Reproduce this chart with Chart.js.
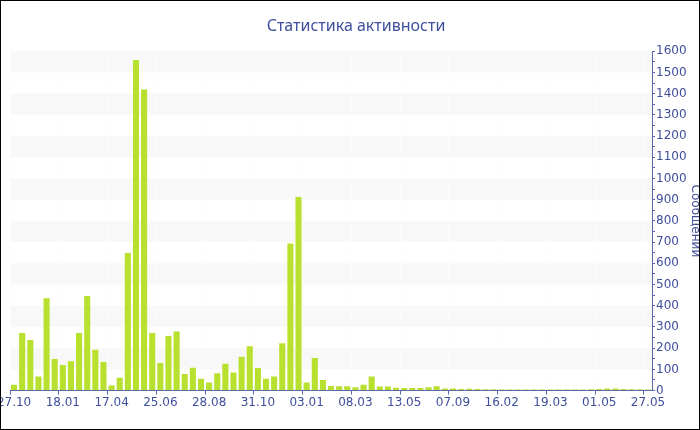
<!DOCTYPE html>
<html lang="ru">
<head>
<meta charset="UTF-8" />
<title>Статистика активности</title>
<script src="https://cdn.jsdelivr.net/npm/chart.js@4.4.0/dist/chart.umd.min.js"></script>
<style>
  body { margin: 0; background: #fff; }
  #wrap { position: relative; width: 700px; height: 430px; }
  #frame { position: absolute; left: 0; top: 0; width: 700px; height: 430px;
           box-sizing: border-box; border: 1px solid #000; pointer-events: none; }
</style>
</head>
<body>
<div id="wrap">
  <canvas id="myChart" width="700" height="430"></canvas>
  <div id="frame"></div>
</div>
<script>
// every 6th bar carries a date label
const tickLabels = ['27.10', '18.01', '17.04', '25.06', '28.08', '31.10', '03.01',
                    '08.03', '13.05', '07.09', '16.02', '19.03', '01.05', '27.05'];

// messages per period
const messages = [
  28, 271, 238, 67, 435, 149, 121, 138, 271, 446,
  193, 135, 24, 61, 649, 1558, 1420, 271, 130, 257,
  279, 78, 108, 56, 38, 82, 127, 85, 159, 209,
  107, 56, 66, 223, 693, 913, 38, 154, 50, 22,
  20, 20, 16, 27, 66, 19, 19, 14, 12, 12,
  12, 16, 20, 10, 10, 8, 9, 8, 6, 6,
  5, 5, 5, 5, 5, 5, 5, 5, 5, 5,
  5, 6, 8, 10, 10, 8, 6, 6, 5
];

const labelEvery = 6;
const labels = messages.map((v, i) => i % labelEvery === 0 ? tickLabels[i / labelEvery] : '');

const textColor = '#3f4f9c';
const axisColor = '#5a68a8';

// grey stripes behind every other 100 step
const stripes = {
  id: 'stripes',
  beforeDraw(chart) {
    const { ctx, chartArea, scales } = chart;
    const y = scales.y;
    ctx.save();
    ctx.fillStyle = '#f8f8f8';
    for (let v = 100; v < y.max; v += 200) {
      const top = y.getPixelForValue(v + 100);
      const bottom = y.getPixelForValue(v);
      ctx.fillRect(chartArea.left, top, chartArea.right - chartArea.left, bottom - top);
    }
    ctx.restore();
  }
};

const ctx = document.getElementById('myChart').getContext('2d');
const myChart = new Chart(ctx, {
  type: 'bar',
  data: {
    labels: labels,
    datasets: [{
      data: messages,
      backgroundColor: '#b8e02e',
      borderWidth: 0,
      barPercentage: 0.75,
      categoryPercentage: 1.0
    }]
  },
  options: {
    responsive: false,
    animation: false,
    layout: { padding: { left: 10, right: -2, top: 0, bottom: 19 } },
    plugins: {
      legend: { display: false },
      tooltip: { enabled: false },
      title: {
        display: true,
        text: 'Статистика активности',
        color: textColor,
        font: { family: 'Noto Sans', size: 16, weight: 'normal' },
        padding: { top: 17, bottom: 15 }
      }
    },
    scales: {
      x: {
        afterFit: (s) => { s.paddingLeft = 0; s.paddingRight = 0; },
        border: { color: axisColor, width: 1 },
        grid: {
          drawOnChartArea: true,
          color: (c) => c.index % labelEvery === 0 ? '#fcfcfc' : 'rgba(0,0,0,0)',
          tickColor: (c) => c.index % labelEvery === 0 ? axisColor : 'rgba(0,0,0,0)',
          tickLength: 4
        },
        ticks: {
          autoSkip: false,
          maxRotation: 0,
          color: textColor,
          padding: 1,
          font: { family: 'DejaVu Sans', size: 12 }
        }
      },
      y: {
        position: 'right',
        min: 0,
        max: 1600,
        border: { color: axisColor, width: 1 },
        grid: { drawOnChartArea: false, tickColor: axisColor, tickLength: 3 },
        ticks: {
          stepSize: 50,
          autoSkip: false,
          color: textColor,
          padding: 1,
          font: { family: 'DejaVu Sans', size: 12 },
          callback: (v) => v % 100 === 0 ? v : ''
        },
        title: {
          display: true,
          text: 'Сообщений',
          color: textColor,
          font: { family: 'DejaVu Sans', size: 12 },
          padding: 0
        }
      }
    }
  },
  plugins: [stripes]
});
</script>
</body>
</html>
